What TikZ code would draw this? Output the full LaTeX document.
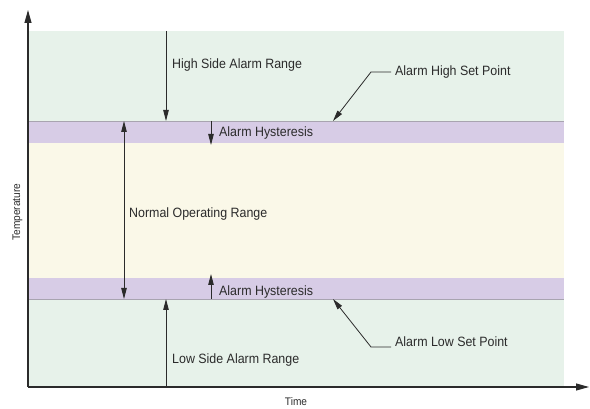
\documentclass[tikz,border=0pt]{standalone}
\usepackage{fontspec}
\setmainfont{Liberation Sans}[FakeStretch=0.92]
\usetikzlibrary{arrows.meta}
\definecolor{zgreen}{HTML}{E7F2EA}
\definecolor{zpurple}{HTML}{D7CCE6}
\definecolor{zcream}{HTML}{FAF8E8}
\definecolor{zink}{HTML}{2B2B2B}
\definecolor{zline}{HTML}{A8A4B0}
\tikzset{
  lbl/.style={anchor=base west, inner sep=0pt, text=zink, font=\fontsize{13.5}{15}\selectfont},
  small/.style={inner sep=0pt, text=zink, font=\fontsize{11}{13}\selectfont},
  arr/.style={draw=zink, line width=0.9pt, -{Triangle[length=11pt,width=5.5pt]}},
  darr/.style={draw=zink, line width=0.9pt, {Triangle[length=11pt,width=5.5pt]}-{Triangle[length=11pt,width=5.5pt]}},
  axis/.style={draw=zink, line width=1.1pt, -{Triangle[length=13pt,width=7pt]}},
  lead/.style={draw=zink, line width=0.8pt, -{Triangle[length=11pt,width=5.5pt]}},
}
\begin{document}
\begin{tikzpicture}[x=1pt,y=-1pt]
\useasboundingbox (0,0) rectangle (590,409);
% bands
\fill[zgreen] (28,31) rectangle (564,121);
\fill[zpurple] (28,121) rectangle (564,143);
\fill[zcream] (28,143) rectangle (564,278);
\fill[zpurple] (28,278) rectangle (564,299);
\fill[zgreen] (28,299) rectangle (564,387);
\draw[zline, line width=0.6pt] (28,121) -- (564,121);
\draw[zline, line width=0.6pt] (28,299) -- (564,299);
% axes
\coordinate (O) at (28,387);
\coordinate (Ytop) at (28,10);
\coordinate (Xend) at (589,387);
\draw[axis] (O) -- (Ytop);
\draw[axis] (O) -- (Xend);
\node[small, anchor=base] (time) at (296,406) {Time};
\node[small, rotate=90, anchor=base] (temp) at (20,212) {Temperature};
% arrow coordinates
\coordinate (hsTop) at (166,31);
\coordinate (hsBot) at (166,121);
\coordinate (noTop) at (124,121);
\coordinate (noBot) at (124,299);
\coordinate (hyA) at (211,121);
\coordinate (hyB) at (211,145);
\coordinate (hyC) at (211,299);
\coordinate (hyD) at (211,274);
\coordinate (lsBot) at (166,387);
\coordinate (lsTop) at (166,299);
\draw[arr] (hsTop) -- (hsBot);
\draw[darr] (noTop) -- (noBot);
\draw[arr] (hyA) -- (hyB);
\draw[arr] (hyC) -- (hyD);
\draw[arr] (lsBot) -- (lsTop);
% labels
\node[lbl] (hs) at (172,69) {High Side Alarm Range};
\node[lbl] (hy1) at (219,137) {Alarm Hysteresis};
\node[lbl] (no) at (129,218) {Normal Operating Range};
\node[lbl] (hy2) at (219,295) {Alarm Hysteresis};
\node[lbl] (ls) at (172,363) {Low Side Alarm Range};
\node[lbl] (ahsp) at (395,76) {Alarm High Set Point};
\node[lbl] (alsp) at (395,347) {Alarm Low Set Point};
% leaders
\coordinate (hl1) at (391,72);
\coordinate (hl2) at (371,72);
\coordinate (hl3) at (333,121);
\coordinate (ll1) at (391,347);
\coordinate (ll2) at (371,347);
\coordinate (ll3) at (333,299);
\draw[lead] (hl1) -- (hl2) -- (hl3);
\draw[lead] (ll1) -- (ll2) -- (ll3);
\end{tikzpicture}
\end{document}
